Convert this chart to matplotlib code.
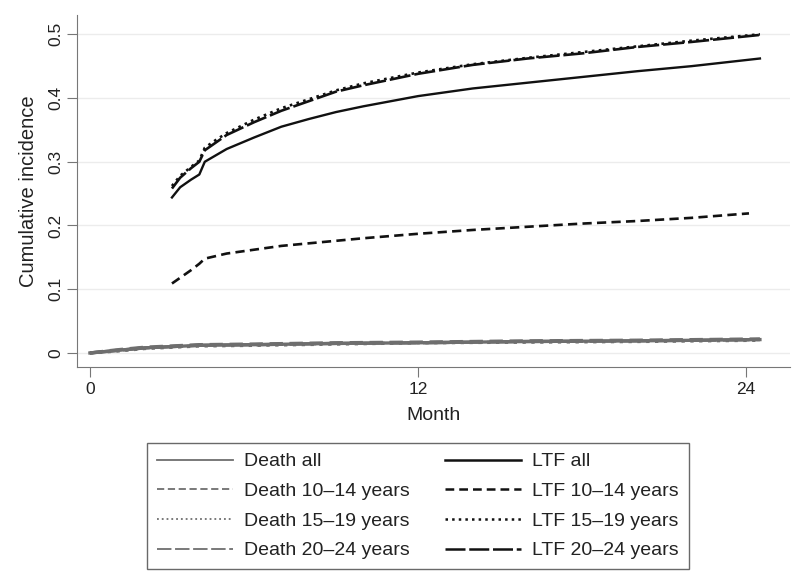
import matplotlib.pyplot as plt
from matplotlib.lines import Line2D

plt.rcParams['font.family'] = ['Liberation Sans', 'DejaVu Sans']

# months since start
ltf_months = [3, 3.3, 3.7, 4.0, 4.2, 4.6, 5, 6, 7, 8, 9, 10, 12, 14, 16, 18, 20, 22, 24.5]
ltf1014_months = [3, 3.3, 3.7, 4.0, 4.2, 4.6, 5, 6, 7, 8, 9, 10, 12, 14, 16, 18, 20, 22, 24.1]
death_months = [0, 1, 2, 3, 4, 6, 9, 12, 16, 20, 24.5]

ltf_all = [0.244, 0.26, 0.272, 0.28, 0.30, 0.31, 0.32, 0.338, 0.355, 0.367, 0.378,
           0.387, 0.403, 0.415, 0.424, 0.433, 0.442, 0.45, 0.462]
ltf_1014 = [0.109, 0.118, 0.13, 0.14, 0.148, 0.152, 0.156, 0.162, 0.168, 0.172, 0.176,
            0.18, 0.187, 0.193, 0.198, 0.203, 0.207, 0.212, 0.219]
ltf_1519 = [0.262, 0.278, 0.292, 0.302, 0.322, 0.334, 0.345, 0.366, 0.384, 0.398, 0.412,
            0.423, 0.44, 0.453, 0.463, 0.472, 0.481, 0.49, 0.5]
ltf_2024 = [0.258, 0.275, 0.29, 0.30, 0.318, 0.33, 0.342, 0.362, 0.38, 0.395, 0.41,
            0.42, 0.438, 0.452, 0.462, 0.47, 0.48, 0.488, 0.499]

death_all = [0, 0.004, 0.008, 0.010, 0.012, 0.013, 0.015, 0.016, 0.018, 0.019, 0.021]
death_1014 = [0, 0.005, 0.009, 0.011, 0.013, 0.014, 0.016, 0.017, 0.019, 0.020, 0.022]
death_1519 = [0, 0.003, 0.007, 0.009, 0.011, 0.012, 0.014, 0.016, 0.017, 0.018, 0.020]
death_2024 = [0, 0.004, 0.008, 0.010, 0.012, 0.013, 0.015, 0.016, 0.018, 0.019, 0.021]

gray = '#6e6e6e'
black = '#111111'

fig = plt.figure(figsize=(8, 5.83), dpi=100)
ax = fig.add_axes([0.096, 0.3705, 0.8915, 0.6035])

ax.plot(death_months, death_all, color=gray, lw=2.4, ls='-')
ax.plot(death_months, death_1014, color=gray, lw=2.4, ls=(0, (4, 2)))
ax.plot(death_months, death_1519, color=gray, lw=2.4, ls=':')
ax.plot(death_months, death_2024, color=gray, lw=2.4, ls=(0, (8, 2)))

ax.plot(ltf_months, ltf_all, color=black, lw=1.7, ls='-')
ax.plot(ltf1014_months, ltf_1014, color=black, lw=1.9, ls=(0, (3.5, 2)))
ax.plot(ltf_months, ltf_1519, color=black, lw=1.9, ls=':')
ax.plot(ltf_months, ltf_2024, color=black, lw=1.9, ls=(0, (8, 1.5)))

ax.set_xlim(-0.48, 25.6)
ax.set_ylim(-0.022, 0.53)
ax.set_xticks([0, 12, 24])
ax.set_yticks([0, 0.1, 0.2, 0.3, 0.4, 0.5])
ax.set_yticklabels(['0', '0.1', '0.2', '0.3', '0.4', '0.5'], rotation=90, va='center')
ax.yaxis.grid(True, color='#ececec', lw=1)
ax.set_axisbelow(True)
for s in ['top', 'right']:
    ax.spines[s].set_visible(False)
for s in ['left', 'bottom']:
    ax.spines[s].set_color('#777777')
ax.tick_params(colors='#777777', labelcolor='#222222', labelsize=12.5, length=7)
ax.tick_params(axis='x', pad=4)
ax.tick_params(axis='y', pad=3)
ax.set_xlabel('Month', fontsize=14, color='#222222', labelpad=7)
ax.set_ylabel('Cumulative incidence', fontsize=14.5, color='#222222', labelpad=7)

handles = [
    Line2D([], [], color=gray, lw=1.3, ls='-'),
    Line2D([], [], color=gray, lw=1.3, ls=(0, (4, 2))),
    Line2D([], [], color=gray, lw=1.3, ls=':'),
    Line2D([], [], color=gray, lw=1.3, ls=(0, (8, 2))),
    Line2D([], [], color=black, lw=1.8, ls='-'),
    Line2D([], [], color=black, lw=1.8, ls=(0, (3.5, 2))),
    Line2D([], [], color=black, lw=1.8, ls=':'),
    Line2D([], [], color=black, lw=1.8, ls=(0, (8, 1.5))),
]
labels = ['Death all', 'Death 10\u201314 years', 'Death 15\u201319 years', 'Death 20\u201324 years',
          'LTF all', 'LTF 10\u201314 years', 'LTF 15\u201319 years', 'LTF 20\u201324 years']
leg = fig.legend(handles, labels, ncol=2, loc='upper left',
                 bbox_to_anchor=(147 / 800, 1 - 443 / 583), fontsize=14,
                 handlelength=3.9, handletextpad=0.6, columnspacing=1.8,
                 labelspacing=0.62, frameon=True, fancybox=False, borderpad=0.5,
                 borderaxespad=0, edgecolor='#444444')
leg.get_frame().set_linewidth(1)
for t in leg.get_texts():
    t.set_color('#222222')

fig.savefig('out.png', dpi=100)
